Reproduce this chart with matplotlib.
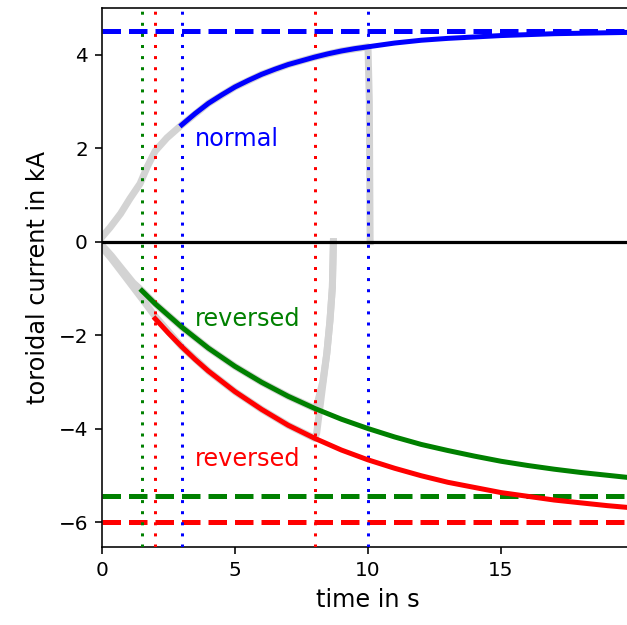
import matplotlib
matplotlib.use('Agg')
import matplotlib.pyplot as plt

t_raw_normal = [0, 0.3, 0.7, 1.05, 1.43, 1.7, 2.0, 2.44, 2.7, 3.0, 4, 5, 6, 7, 8, 9, 10, 10.05, 10.08]
i_raw_normal = [0.1, 0.3, 0.6, 0.92, 1.24, 1.6, 1.94, 2.22, 2.35, 2.5, 2.96, 3.31, 3.58, 3.79, 3.95,
                4.08, 4.17, 3.0, 0.0]

t_raw_green = [0, 0.35, 0.7, 1.17, 1.5, 2, 3, 4, 5, 6, 7, 8, 8.1, 8.3, 8.45, 8.57, 8.66, 8.7]
i_raw_green = [-0.08, -0.3, -0.55, -0.88, -1.05, -1.33, -1.83, -2.28, -2.67, -3.01, -3.31, -3.57,
               -3.45, -3.0, -2.4, -1.69, -0.98, 0.0]

t_raw_red = [0, 0.35, 0.7, 1.1, 1.5, 2, 3, 4, 5, 6, 7, 8, 8.07, 8.26, 8.45, 8.57, 8.66, 8.7]
i_raw_red = [-0.12, -0.36, -0.62, -0.92, -1.22, -1.6, -2.25, -2.77, -3.21, -3.59, -3.93, -4.21,
             -4.1, -3.25, -2.4, -1.69, -0.98, 0.0]

# fitted curves
t_fit_blue = [3, 3.5, 4, 4.5, 5, 5.5, 6, 6.5, 7, 7.5, 8, 8.5, 9, 9.5, 10, 11, 12, 13, 14, 15, 16, 17, 18, 19, 20]
i_fit_blue = [2.50, 2.74, 2.96, 3.14, 3.31, 3.45, 3.58, 3.69, 3.79, 3.87, 3.95, 4.02, 4.08, 4.13, 4.17,
              4.25, 4.31, 4.35, 4.38, 4.41, 4.43, 4.45, 4.46, 4.47, 4.48]

t_fit_green = [1.5, 2, 3, 4, 5, 6, 7, 8, 9, 10, 11, 12, 13, 14, 15, 16, 17, 18, 19, 20]
i_fit_green = [-1.05, -1.33, -1.83, -2.28, -2.67, -3.01, -3.31, -3.57, -3.80, -4.00, -4.18, -4.34,
               -4.47, -4.59, -4.70, -4.79, -4.87, -4.94, -5.00, -5.06]

t_fit_red = [2, 2.5, 3, 3.5, 4, 5, 6, 7, 8, 9, 10, 11, 12, 13, 14, 15, 16, 17, 18, 19, 20]
i_fit_red = [-1.65, -1.96, -2.25, -2.52, -2.77, -3.21, -3.59, -3.93, -4.21, -4.46, -4.67, -4.85, -5.01,
             -5.15, -5.26, -5.37, -5.45, -5.53, -5.59, -5.65, -5.70]

# asymptotes and fit windows
i_inf = {'blue': 4.5, 'green': -5.45, 'red': -6.0}
t_windows = [(1.5, 'green'), (2.0, 'red'), (3.0, 'blue'), (8.0, 'red'), (10.0, 'blue')]

labels = [(3.5, 2.2, 'normal', 'blue'),
          (3.5, -1.65, 'reversed', 'green'),
          (3.5, -4.66, 'reversed', 'red')]

W, H, DPI = 627, 625, 144
fig = plt.figure(figsize=(W / DPI, H / DPI), dpi=DPI)
ax = fig.add_axes([102 / W, (H - 547) / H, (634 - 102) / W, (547 - 8) / H])

for t, i in [(t_raw_normal, i_raw_normal), (t_raw_green, i_raw_green), (t_raw_red, i_raw_red)]:
    ax.plot(t, i, color='lightgray', lw=3.5, zorder=1, solid_joinstyle='round')

ax.axhline(0, color='black', lw=1.6, zorder=2)

for c, v in i_inf.items():
    ax.axhline(v, color=c, ls='--', lw=2.5, zorder=2)

for t, c in t_windows:
    ax.axvline(t, color=c, lw=1.5, dashes=(1, 2.7), zorder=3)

ax.plot(t_fit_blue, i_fit_blue, color='blue', lw=2.5, zorder=4, solid_joinstyle='round')
ax.plot(t_fit_green, i_fit_green, color='green', lw=2.5, zorder=4, solid_joinstyle='round')
ax.plot(t_fit_red, i_fit_red, color='red', lw=2.5, zorder=4, solid_joinstyle='round')

for x, y, s, c in labels:
    ax.text(x, y, s, color=c, fontsize=12, va='center', ha='left')

ax.set_xlim(0, 20)
ax.set_ylim(-6.535, 5.0)
ax.set_xticks([0, 5, 10, 15])
ax.set_yticks([-6, -4, -2, 0, 2, 4])
ax.set_xlabel('time in s', fontsize=12)
ax.set_ylabel('toroidal current in kA', fontsize=12)

fig.savefig('out.png', dpi=DPI)
